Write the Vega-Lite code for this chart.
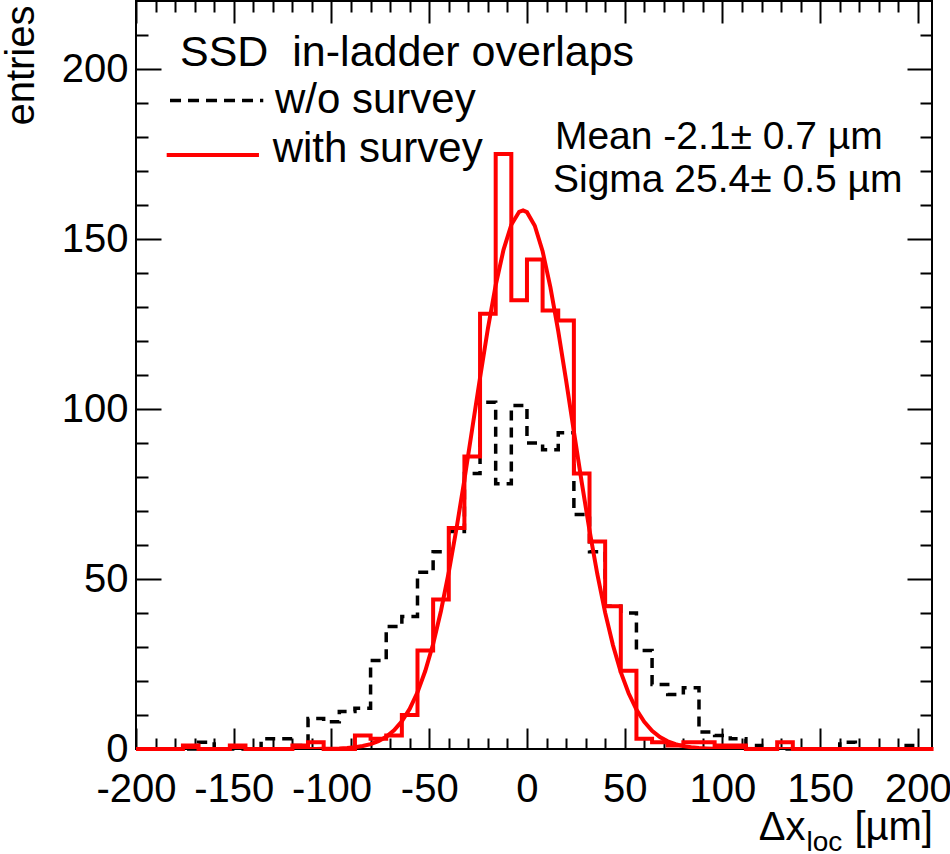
{
  "$schema": "https://vega.github.io/schema/vega-lite/v6.json",
  "width": 796,
  "height": 748,
  "autosize": {"type": "none"},
  "padding": {"left": 136, "top": 1, "right": 18, "bottom": 105},
  "background": "white",
  "config": {
    "font": "Liberation Sans",
    "view": {"stroke": "black", "strokeWidth": 2},
    "axis": {
      "grid": false,
      "domain": false,
      "tickColor": "black",
      "tickWidth": 2,
      "labelColor": "black",
      "labelFont": "Liberation Sans",
      "labelFontSize": 40,
      "labelOverlap": false,
      "labelFlush": false,
      "labelBound": false
    },
    "text": {"font": "Liberation Sans", "color": "black"}
  },
  "datasets": {
    "hist": [
      {"dx": -200, "entries": 0, "sample": "w/o survey"},
      {"dx": -192, "entries": 0, "sample": "w/o survey"},
      {"dx": -184, "entries": 0, "sample": "w/o survey"},
      {"dx": -176, "entries": 0, "sample": "w/o survey"},
      {"dx": -168, "entries": 2, "sample": "w/o survey"},
      {"dx": -160, "entries": 0, "sample": "w/o survey"},
      {"dx": -152, "entries": 0, "sample": "w/o survey"},
      {"dx": -144, "entries": 0, "sample": "w/o survey"},
      {"dx": -136, "entries": 3, "sample": "w/o survey"},
      {"dx": -128, "entries": 3, "sample": "w/o survey"},
      {"dx": -120, "entries": 1, "sample": "w/o survey"},
      {"dx": -112, "entries": 9, "sample": "w/o survey"},
      {"dx": -104, "entries": 8, "sample": "w/o survey"},
      {"dx": -96, "entries": 11, "sample": "w/o survey"},
      {"dx": -88, "entries": 12, "sample": "w/o survey"},
      {"dx": -80, "entries": 26, "sample": "w/o survey"},
      {"dx": -72, "entries": 36, "sample": "w/o survey"},
      {"dx": -64, "entries": 39, "sample": "w/o survey"},
      {"dx": -56, "entries": 52, "sample": "w/o survey"},
      {"dx": -48, "entries": 58, "sample": "w/o survey"},
      {"dx": -40, "entries": 64, "sample": "w/o survey"},
      {"dx": -32, "entries": 81, "sample": "w/o survey"},
      {"dx": -24, "entries": 102, "sample": "w/o survey"},
      {"dx": -16, "entries": 78, "sample": "w/o survey"},
      {"dx": -8, "entries": 101, "sample": "w/o survey"},
      {"dx": 0, "entries": 90, "sample": "w/o survey"},
      {"dx": 8, "entries": 88, "sample": "w/o survey"},
      {"dx": 16, "entries": 93, "sample": "w/o survey"},
      {"dx": 24, "entries": 69, "sample": "w/o survey"},
      {"dx": 32, "entries": 58, "sample": "w/o survey"},
      {"dx": 40, "entries": 42, "sample": "w/o survey"},
      {"dx": 48, "entries": 40, "sample": "w/o survey"},
      {"dx": 56, "entries": 29, "sample": "w/o survey"},
      {"dx": 64, "entries": 19, "sample": "w/o survey"},
      {"dx": 72, "entries": 16, "sample": "w/o survey"},
      {"dx": 80, "entries": 18, "sample": "w/o survey"},
      {"dx": 88, "entries": 5, "sample": "w/o survey"},
      {"dx": 96, "entries": 4, "sample": "w/o survey"},
      {"dx": 104, "entries": 3, "sample": "w/o survey"},
      {"dx": 112, "entries": 1, "sample": "w/o survey"},
      {"dx": 120, "entries": 0, "sample": "w/o survey"},
      {"dx": 128, "entries": 0, "sample": "w/o survey"},
      {"dx": 136, "entries": 0, "sample": "w/o survey"},
      {"dx": 144, "entries": 0, "sample": "w/o survey"},
      {"dx": 152, "entries": 0, "sample": "w/o survey"},
      {"dx": 160, "entries": 2, "sample": "w/o survey"},
      {"dx": 168, "entries": 0, "sample": "w/o survey"},
      {"dx": 176, "entries": 0, "sample": "w/o survey"},
      {"dx": 184, "entries": 0, "sample": "w/o survey"},
      {"dx": 192, "entries": 1, "sample": "w/o survey"},
      {"dx": 200, "entries": 0, "sample": "w/o survey"},
      {"dx": 208, "entries": 0, "sample": "w/o survey"},
      {"dx": -200, "entries": 0, "sample": "with survey"},
      {"dx": -192, "entries": 0, "sample": "with survey"},
      {"dx": -184, "entries": 0, "sample": "with survey"},
      {"dx": -176, "entries": 1, "sample": "with survey"},
      {"dx": -168, "entries": 0, "sample": "with survey"},
      {"dx": -160, "entries": 0, "sample": "with survey"},
      {"dx": -152, "entries": 1, "sample": "with survey"},
      {"dx": -144, "entries": 0, "sample": "with survey"},
      {"dx": -136, "entries": 0, "sample": "with survey"},
      {"dx": -128, "entries": 0, "sample": "with survey"},
      {"dx": -120, "entries": 1, "sample": "with survey"},
      {"dx": -112, "entries": 2, "sample": "with survey"},
      {"dx": -104, "entries": 0, "sample": "with survey"},
      {"dx": -96, "entries": 0, "sample": "with survey"},
      {"dx": -88, "entries": 4, "sample": "with survey"},
      {"dx": -80, "entries": 3, "sample": "with survey"},
      {"dx": -72, "entries": 4, "sample": "with survey"},
      {"dx": -64, "entries": 10, "sample": "with survey"},
      {"dx": -56, "entries": 29, "sample": "with survey"},
      {"dx": -48, "entries": 44, "sample": "with survey"},
      {"dx": -40, "entries": 65, "sample": "with survey"},
      {"dx": -32, "entries": 86, "sample": "with survey"},
      {"dx": -24, "entries": 128, "sample": "with survey"},
      {"dx": -16, "entries": 175, "sample": "with survey"},
      {"dx": -8, "entries": 132, "sample": "with survey"},
      {"dx": 0, "entries": 144, "sample": "with survey"},
      {"dx": 8, "entries": 129, "sample": "with survey"},
      {"dx": 16, "entries": 126, "sample": "with survey"},
      {"dx": 24, "entries": 81, "sample": "with survey"},
      {"dx": 32, "entries": 61, "sample": "with survey"},
      {"dx": 40, "entries": 42, "sample": "with survey"},
      {"dx": 48, "entries": 23, "sample": "with survey"},
      {"dx": 56, "entries": 3, "sample": "with survey"},
      {"dx": 64, "entries": 2, "sample": "with survey"},
      {"dx": 72, "entries": 1, "sample": "with survey"},
      {"dx": 80, "entries": 2, "sample": "with survey"},
      {"dx": 88, "entries": 2, "sample": "with survey"},
      {"dx": 96, "entries": 1, "sample": "with survey"},
      {"dx": 104, "entries": 1, "sample": "with survey"},
      {"dx": 112, "entries": 0, "sample": "with survey"},
      {"dx": 120, "entries": 0, "sample": "with survey"},
      {"dx": 128, "entries": 2, "sample": "with survey"},
      {"dx": 136, "entries": 0, "sample": "with survey"},
      {"dx": 144, "entries": 0, "sample": "with survey"},
      {"dx": 152, "entries": 0, "sample": "with survey"},
      {"dx": 160, "entries": 0, "sample": "with survey"},
      {"dx": 168, "entries": 0, "sample": "with survey"},
      {"dx": 176, "entries": 0, "sample": "with survey"},
      {"dx": 184, "entries": 0, "sample": "with survey"},
      {"dx": 192, "entries": 0, "sample": "with survey"},
      {"dx": 200, "entries": 0, "sample": "with survey"},
      {"dx": 208, "entries": 0, "sample": "with survey"}
    ],
    "fit": [
      {"dx": -200, "entries": 0},
      {"dx": -120, "entries": 0.003},
      {"dx": -116, "entries": 0.007},
      {"dx": -112, "entries": 0.014},
      {"dx": -108, "entries": 0.027},
      {"dx": -104, "entries": 0.051},
      {"dx": -100, "entries": 0.094},
      {"dx": -96, "entries": 0.171},
      {"dx": -92, "entries": 0.301},
      {"dx": -88, "entries": 0.52},
      {"dx": -84, "entries": 0.875},
      {"dx": -80, "entries": 1.435},
      {"dx": -76, "entries": 2.3},
      {"dx": -72, "entries": 3.59},
      {"dx": -68, "entries": 5.47},
      {"dx": -64, "entries": 8.13},
      {"dx": -60, "entries": 11.79},
      {"dx": -56, "entries": 16.67},
      {"dx": -52, "entries": 23.0},
      {"dx": -48, "entries": 30.9},
      {"dx": -44, "entries": 40.6},
      {"dx": -40, "entries": 52.0},
      {"dx": -36, "entries": 65.0},
      {"dx": -32, "entries": 79.2},
      {"dx": -28, "entries": 94.2},
      {"dx": -24, "entries": 109.2},
      {"dx": -20, "entries": 123.6},
      {"dx": -16, "entries": 136.4},
      {"dx": -12, "entries": 146.8},
      {"dx": -8, "entries": 154.2},
      {"dx": -4, "entries": 158.0},
      {"dx": -2, "entries": 158.4},
      {"dx": 0, "entries": 157.9},
      {"dx": 4, "entries": 153.9},
      {"dx": 8, "entries": 146.4},
      {"dx": 12, "entries": 135.8},
      {"dx": 16, "entries": 122.9},
      {"dx": 20, "entries": 108.5},
      {"dx": 24, "entries": 93.4},
      {"dx": 28, "entries": 78.5},
      {"dx": 32, "entries": 64.3},
      {"dx": 36, "entries": 51.4},
      {"dx": 40, "entries": 40.1},
      {"dx": 44, "entries": 30.5},
      {"dx": 48, "entries": 22.6},
      {"dx": 52, "entries": 16.39},
      {"dx": 56, "entries": 11.58},
      {"dx": 60, "entries": 7.98},
      {"dx": 64, "entries": 5.36},
      {"dx": 68, "entries": 3.51},
      {"dx": 72, "entries": 2.25},
      {"dx": 76, "entries": 1.4},
      {"dx": 80, "entries": 0.85},
      {"dx": 84, "entries": 0.51},
      {"dx": 88, "entries": 0.29},
      {"dx": 92, "entries": 0.166},
      {"dx": 96, "entries": 0.091},
      {"dx": 100, "entries": 0.049},
      {"dx": 120, "entries": 0.002},
      {"dx": 207.2, "entries": 0}
    ]
  },
  "resolve": {"axis": {"x": "independent", "y": "independent"}},
  "layer": [
    {
      "data": {"name": "hist"},
      "transform": [{"filter": "datum.sample === 'w/o survey'"}],
      "mark": {"type": "line", "interpolate": "step-after", "color": "black", "strokeWidth": 3.5, "strokeDash": [10, 7]},
      "encoding": {
        "x": {
          "field": "dx",
          "type": "quantitative",
          "scale": {"domain": [-200, 207.2], "nice": false, "zero": false},
          "axis": {
            "orient": "bottom",
            "title": null,
            "values": [-200, -190, -180, -170, -160, -150, -140, -130, -120, -110, -100, -90, -80, -70, -60, -50, -40, -30, -20, -10, 0, 10, 20, 30, 40, 50, 60, 70, 80, 90, 100, 110, 120, 130, 140, 150, 160, 170, 180, 190, 200],
            "labelExpr": "datum.value % 50 === 0 ? '' + datum.value : ''",
            "tickSize": {"condition": {"test": "datum.value % 50 === 0", "value": -21}, "value": -11},
            "labelPadding": 41
          }
        },
        "y": {
          "field": "entries",
          "type": "quantitative",
          "scale": {"domain": [0, 220], "nice": false},
          "axis": {
            "orient": "left",
            "values": [0, 10, 20, 30, 40, 50, 60, 70, 80, 90, 100, 110, 120, 130, 140, 150, 160, 170, 180, 190, 200, 210],
            "labelExpr": "datum.value % 50 === 0 ? '' + datum.value : ''",
            "tickSize": {"condition": {"test": "datum.value % 50 === 0", "value": -25}, "value": -12},
            "labelPadding": 33,
            "title": "entries",
            "titleFont": "Liberation Sans",
            "titleFontSize": 40,
            "titleFontWeight": "normal",
            "titleColor": "black",
            "titleAngle": 270,
            "titleAlign": "right",
            "titleBaseline": "alphabetic",
            "titleX": -103,
            "titleY": 4
          }
        }
      }
    },
    {
      "data": {"name": "hist"},
      "transform": [{"filter": "datum.sample === 'with survey'"}],
      "mark": {"type": "line", "interpolate": "step-after", "color": "#ff0000", "strokeWidth": 4},
      "encoding": {
        "x": {
          "field": "dx",
          "type": "quantitative",
          "scale": {"domain": [-200, 207.2], "nice": false, "zero": false},
          "axis": {
            "orient": "top",
            "title": null,
            "labels": false,
            "values": [-200, -190, -180, -170, -160, -150, -140, -130, -120, -110, -100, -90, -80, -70, -60, -50, -40, -30, -20, -10, 0, 10, 20, 30, 40, 50, 60, 70, 80, 90, 100, 110, 120, 130, 140, 150, 160, 170, 180, 190, 200],
            "tickSize": {"condition": {"test": "datum.value % 50 === 0", "value": -22}, "value": -11}
          }
        },
        "y": {
          "field": "entries",
          "type": "quantitative",
          "scale": {"domain": [0, 220], "nice": false},
          "axis": {
            "orient": "right",
            "title": null,
            "labels": false,
            "values": [0, 10, 20, 30, 40, 50, 60, 70, 80, 90, 100, 110, 120, 130, 140, 150, 160, 170, 180, 190, 200, 210],
            "tickSize": {"condition": {"test": "datum.value % 50 === 0", "value": -25}, "value": -12}
          }
        }
      }
    },
    {
      "data": {"name": "fit"},
      "mark": {"type": "line", "color": "#ff0000", "strokeWidth": 4, "clip": true},
      "encoding": {
        "x": {"field": "dx", "type": "quantitative", "scale": {"domain": [-200, 207.2], "nice": false, "zero": false}, "axis": null},
        "y": {"field": "entries", "type": "quantitative", "scale": {"domain": [0, 220], "nice": false}, "axis": null}
      }
    },
    {
      "data": {"values": [{}]},
      "mark": {"type": "text", "text": "SSD\u00a0 in-ladder overlaps", "fontSize": 43, "align": "left", "baseline": "alphabetic"},
      "encoding": {
        "x": {"datum": -177.5, "type": "quantitative", "scale": {"domain": [-200, 207.2], "nice": false, "zero": false}, "axis": null},
        "y": {"datum": 201, "type": "quantitative", "scale": {"domain": [0, 220], "nice": false}, "axis": null}
      }
    },
    {
      "data": {"values": [{}]},
      "mark": {"type": "rule", "color": "black", "strokeWidth": 3.5, "strokeDash": [11, 7]},
      "encoding": {
        "x": {"datum": -182.6, "type": "quantitative", "scale": {"domain": [-200, 207.2], "nice": false, "zero": false}, "axis": null},
        "x2": {"datum": -134.9},
        "y": {"datum": 190.7, "type": "quantitative", "scale": {"domain": [0, 220], "nice": false}, "axis": null}
      }
    },
    {
      "data": {"values": [{}]},
      "mark": {"type": "text", "text": "w/o survey", "fontSize": 42, "align": "left", "baseline": "alphabetic"},
      "encoding": {
        "x": {"datum": -128.9, "type": "quantitative", "scale": {"domain": [-200, 207.2], "nice": false, "zero": false}, "axis": null},
        "y": {"datum": 187, "type": "quantitative", "scale": {"domain": [0, 220], "nice": false}, "axis": null}
      }
    },
    {
      "data": {"values": [{}]},
      "mark": {"type": "rule", "color": "#ff0000", "strokeWidth": 4},
      "encoding": {
        "x": {"datum": -184.3, "type": "quantitative", "scale": {"domain": [-200, 207.2], "nice": false, "zero": false}, "axis": null},
        "x2": {"datum": -137.1},
        "y": {"datum": 174.7, "type": "quantitative", "scale": {"domain": [0, 220], "nice": false}, "axis": null}
      }
    },
    {
      "data": {"values": [{}]},
      "mark": {"type": "text", "text": "with survey", "fontSize": 42, "align": "left", "baseline": "alphabetic"},
      "encoding": {
        "x": {"datum": -130.1, "type": "quantitative", "scale": {"domain": [-200, 207.2], "nice": false, "zero": false}, "axis": null},
        "y": {"datum": 172.7, "type": "quantitative", "scale": {"domain": [0, 220], "nice": false}, "axis": null}
      }
    },
    {
      "data": {"values": [{}]},
      "mark": {"type": "text", "text": "Mean -2.1± 0.7 µm", "fontSize": 39, "align": "left", "baseline": "alphabetic"},
      "encoding": {
        "x": {"datum": 14.3, "type": "quantitative", "scale": {"domain": [-200, 207.2], "nice": false, "zero": false}, "axis": null},
        "y": {"datum": 176.4, "type": "quantitative", "scale": {"domain": [0, 220], "nice": false}, "axis": null}
      }
    },
    {
      "data": {"values": [{}]},
      "mark": {"type": "text", "text": "Sigma 25.4± 0.5 µm", "fontSize": 39, "align": "left", "baseline": "alphabetic"},
      "encoding": {
        "x": {"datum": 13.3, "type": "quantitative", "scale": {"domain": [-200, 207.2], "nice": false, "zero": false}, "axis": null},
        "y": {"datum": 163.8, "type": "quantitative", "scale": {"domain": [0, 220], "nice": false}, "axis": null}
      }
    },
    {
      "data": {"values": [{}]},
      "mark": {"type": "text", "text": "Δx", "fontSize": 40, "align": "right", "baseline": "alphabetic"},
      "encoding": {
        "x": {"datum": 142.5, "type": "quantitative", "scale": {"domain": [-200, 207.2], "nice": false, "zero": false}, "axis": null},
        "y": {"datum": -26.8, "type": "quantitative", "scale": {"domain": [0, 220], "nice": false}, "axis": null}
      }
    },
    {
      "data": {"values": [{}]},
      "mark": {"type": "text", "text": "loc", "fontSize": 28, "align": "left", "baseline": "alphabetic"},
      "encoding": {
        "x": {"datum": 143.0, "type": "quantitative", "scale": {"domain": [-200, 207.2], "nice": false, "zero": false}, "axis": null},
        "y": {"datum": -30.1, "type": "quantitative", "scale": {"domain": [0, 220], "nice": false}, "axis": null}
      }
    },
    {
      "data": {"values": [{}]},
      "mark": {"type": "text", "text": "[µm]", "fontSize": 40, "align": "right", "baseline": "alphabetic"},
      "encoding": {
        "x": {"datum": 207.7, "type": "quantitative", "scale": {"domain": [-200, 207.2], "nice": false, "zero": false}, "axis": null},
        "y": {"datum": -26.8, "type": "quantitative", "scale": {"domain": [0, 220], "nice": false}, "axis": null}
      }
    }
  ]
}
